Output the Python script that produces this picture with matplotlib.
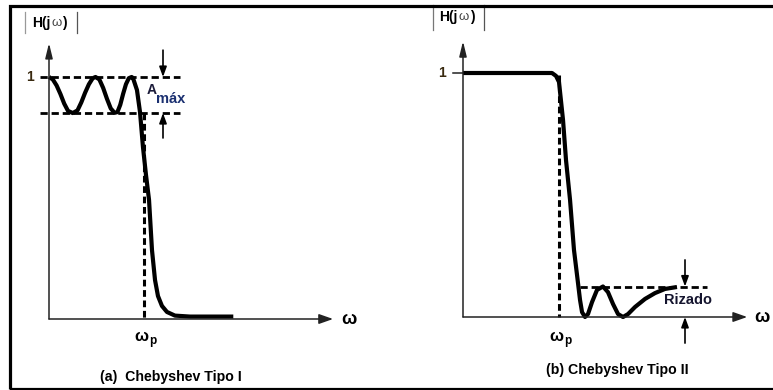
import matplotlib
matplotlib.use('Agg')
import matplotlib.pyplot as plt
from matplotlib.patches import Rectangle

plt.rcParams.update({
    'font.family': ['Liberation Sans', 'DejaVu Sans'],
    'font.weight': 'bold',
})

# (a) Chebyshev tipo I (w / wp, |H|)
w_cheb1 = [0.00, 0.04, 0.08, 0.12, 0.16, 0.20, 0.25, 0.30, 0.34, 0.38, 0.42, 0.46,
           0.49, 0.53, 0.57, 0.61, 0.65, 0.69, 0.72, 0.75, 0.78, 0.81, 0.84, 0.87,
           0.884, 0.926, 0.958, 0.989, 1.021, 1.053, 1.084, 1.116, 1.147, 1.189,
           1.242, 1.326, 1.484, 1.94]
h_cheb1 = [1.0, 0.99, 0.965, 0.93, 0.89, 0.86, 0.851, 0.862, 0.895, 0.935, 0.97, 0.995,
           1.0, 0.99, 0.955, 0.91, 0.87, 0.852, 0.855, 0.885, 0.93, 0.97, 0.995, 1.0,
           0.996, 0.946, 0.855, 0.711, 0.595, 0.492, 0.285, 0.161, 0.095, 0.054,
           0.029, 0.014, 0.010, 0.010]
ripple_hi1 = 1.0
ripple_lo1 = 0.851

# (b) Chebyshev tipo II
w_cheb2 = [0.0, 0.927, 0.969, 1.0, 1.042, 1.073, 1.115, 1.156, 1.198, 1.219, 1.240,
           1.271, 1.302, 1.344, 1.396, 1.458, 1.510, 1.563, 1.615, 1.667, 1.719,
           1.792, 1.896, 2.0, 2.104, 2.229]
h_cheb2 = [1.0, 1.0, 0.988, 0.963, 0.807, 0.643, 0.480, 0.275, 0.139, 0.070, 0.020,
           0.0, 0.012, 0.061, 0.111, 0.125, 0.102, 0.053, 0.012, 0.0, 0.012,
           0.041, 0.074, 0.098, 0.115, 0.123]
ripple_stop2 = 0.125

W, H = 773, 390
fig = plt.figure(figsize=(W / 100, H / 100), dpi=100)

# marco
fig.add_artist(Rectangle((10 / W, 1 / H), 1.2, 383 / H, transform=fig.transFigure,
                         fill=False, lw=2.3, color='black'))


def make_axes(x0, y0, sx, sy, xlim, ylim):
    # x0, y0 = origen en pixeles (y desde abajo); sx, sy = pixeles por unidad
    left = x0 + xlim[0] * sx
    bottom = y0 + ylim[0] * sy
    ax = fig.add_axes([left / W, bottom / H, (xlim[1] - xlim[0]) * sx / W,
                       (ylim[1] - ylim[0]) * sy / H])
    ax.set_xlim(*xlim)
    ax.set_ylim(*ylim)
    ax.axis('off')
    return ax


def axis_arrow(ax, start, end, hl, hw):
    ax.annotate('', xy=end, xytext=start,
                arrowprops=dict(arrowstyle=f'-|>,head_length={hl},head_width={hw}',
                                lw=1.1, color='#222222', shrinkA=0, shrinkB=0))


def small_arrow(ax, start, end):
    ax.annotate('', xy=end, xytext=start,
                arrowprops=dict(arrowstyle='-|>,head_length=0.6,head_width=0.22',
                                lw=1.2, color='black', shrinkA=0, shrinkB=0))


def h_label(ax, x, y):
    # H(jw) con la omega mas fina
    t1 = ax.text(x, y, 'H(j', fontsize=10, ha='left', va='center')
    t2 = ax.annotate('ω', xy=(1, 0.5), xycoords=t1, xytext=(0.8, 0),
                     textcoords='offset points', fontsize=9.5, fontweight='normal',
                     color='#444444', ha='left', va='center')
    ax.annotate(')', xy=(1, 0.5), xycoords=t2, xytext=(0.5, 0),
                textcoords='offset points', fontsize=10, ha='left', va='center')


def wp_label(ax, x, y):
    t = ax.text(x, y, 'ω', fontsize=12, ha='center', va='center')
    ax.annotate('p', xy=(1, 0.5), xycoords=t, xytext=(0.3, -3.5),
                textcoords='offset points', fontsize=8.5, ha='left', va='center')


dash = dict(color='black', lw=2.0, linestyle=(0, (2.6, 1.4)))

# ---------- (a) ----------
ax1 = make_axes(49, 71, 95, 242, (-0.45, 3.5), (-0.28, 1.3))
axis_arrow(ax1, (0, 0), (0, 1.14), 0.9, 0.22)
axis_arrow(ax1, (0, 0), (2.99, 0), 0.85, 0.3)
ax1.plot([-0.095, 1.38], [ripple_hi1, ripple_hi1], **dash)
ax1.plot([-0.095, 1.38], [ripple_lo1, ripple_lo1], **dash)
ax1.plot([1.0, 1.0], [ripple_lo1, 0], color='black', lw=2.2, linestyle=(0, (2.2, 1.2)))
ax1.plot(w_cheb1, h_cheb1, color='black', lw=3.0, solid_capstyle='butt',
         solid_joinstyle='round')
small_arrow(ax1, (1.2, 1.111), (1.2, ripple_hi1))
small_arrow(ax1, (1.2, 0.748), (1.2, ripple_lo1))
ax1.text(1.025, 0.948, 'A', fontsize=10, color='#1c1c3a', ha='left', va='center')
ax1.text(1.13, 0.91, 'máx', fontsize=10.5, color='#1a2f70', ha='left', va='center')
ax1.text(-0.2, 1.0, '1', fontsize=10, color='#3a2a10', ha='center', va='center')
h_label(ax1, -0.18, 1.222)
ax1.plot([-0.253, -0.253], [1.182, 1.269], color='#999999', lw=0.9)
ax1.plot([0.295, 0.295], [1.182, 1.269], color='#555555', lw=0.9)
wp_label(ax1, 0.975, -0.072)
ax1.text(3.16, 0.0, 'ω', fontsize=13, ha='center', va='center')
ax1.text(0.537, -0.24, '(a)  Chebyshev Tipo I', fontsize=10.2, ha='left', va='center')

# ---------- (b) ----------
ax2 = make_axes(463, 73, 96, 244, (-0.8, 3.2), (-0.28, 1.3))
axis_arrow(ax2, (0, 0), (0, 1.13), 0.9, 0.22)
axis_arrow(ax2, (0, 0), (2.96, 0), 0.85, 0.3)
ax2.plot([-0.104, 0], [1.0, 1.0], color='#222222', lw=1.1)
ax2.plot([1.219, 2.54], [ripple_stop2, ripple_stop2], **dash)
ax2.plot([1.0, 1.0], [0.99, 0], color='black', lw=2.2, linestyle=(0, (2.2, 1.2)))
ax2.plot(w_cheb2, h_cheb2, color='black', lw=3.0, solid_capstyle='butt',
         solid_joinstyle='round')
small_arrow(ax2, (2.3125, 0.234), (2.3125, ripple_stop2))
small_arrow(ax2, (2.3125, -0.107), (2.3125, 0.0))
ax2.text(2.344, 0.068, 'Rizado', fontsize=10.5, color='#14142e', ha='center', va='center')
ax2.text(-0.22, 1.0, '1', fontsize=10, color='#3a2a10', ha='center', va='center')
h_label(ax2, -0.245, 1.23)
ax2.plot([-0.3125, -0.3125], [1.176, 1.28], color='#777777', lw=0.9)
ax2.plot([0.219, 0.219], [1.176, 1.28], color='#555555', lw=0.9)
wp_label(ax2, 0.975, -0.078)
ax2.text(3.11, 0.0, 'ω', fontsize=13, ha='center', va='center')
ax2.text(1.604, -0.217, '(b) Chebyshev Tipo II', fontsize=10.2, ha='center', va='center')

plt.savefig('out.png', dpi=100)
print("[OK] out.png")
